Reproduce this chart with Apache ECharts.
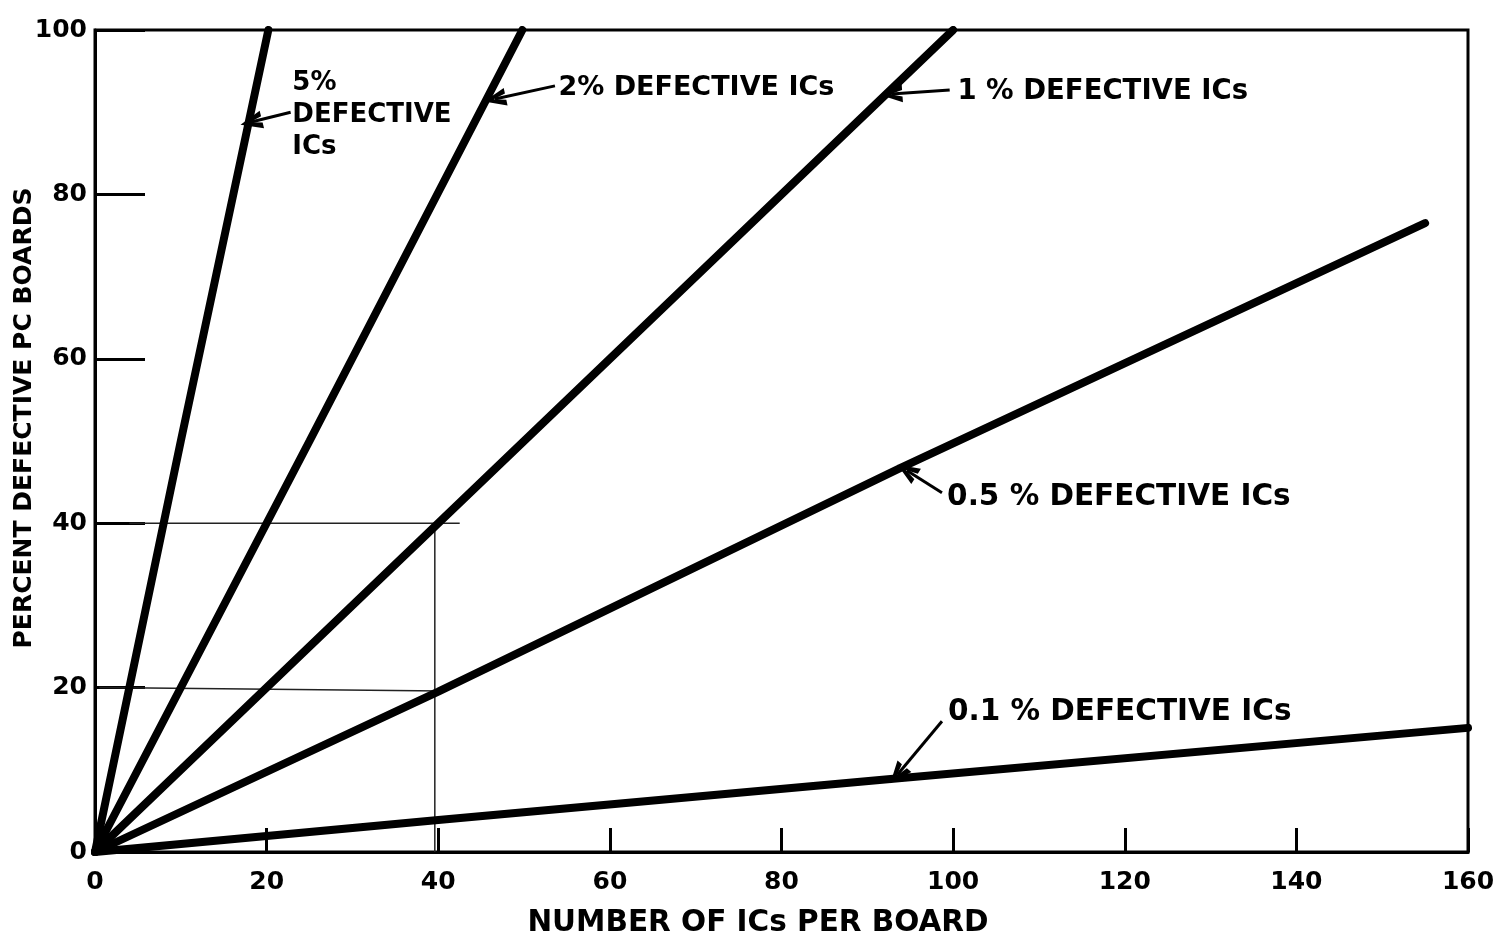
<!DOCTYPE html>
<html>
<head>
<meta charset="utf-8">
<script src="https://cdn.jsdelivr.net/npm/echarts@6/dist/echarts.min.js"></script>
<style>
html,body{margin:0;padding:0;background:#fff;}
#chart{width:1506px;height:940px;}
</style>
</head>
<body>
<div id="chart"></div>
<script>
// ---- data ----
const xTicks = [0, 20, 40, 60, 80, 100, 120, 140, 160];
const yTicks = [0, 20, 40, 60, 80, 100];
const seriesNames = ['5% DEFECTIVE ICs', '2% DEFECTIVE ICs', '1% DEFECTIVE ICs', '0.5% DEFECTIVE ICs', '0.1% DEFECTIVE ICs'];
const line5pct  = [[0, 0], [10, 50], [20.2, 100]];
const line2pct  = [[0, 0], [25, 50], [49.8, 100]];
const line1pct  = [[0, 0], [50, 50], [100, 100]];
const line05pct = [[0, 0], [40, 19.5], [94, 46.8], [155, 76.5]];
const line01pct = [[0, 0], [40, 3.9], [94, 9.0], [160, 15.1]];
// thin reading guide lines
const guide40 = [[4, 40], [42.5, 40]];
const guide20 = [[0.5, 20], [40.5, 19.6]];
const guideV  = [[39.6, 40], [39.6, 0]];
// annotation labels: text, anchor [x,y] (left edge, vertical centre), arrow from -> to
const labelTexts = ['5%\nDEFECTIVE\nICs', '2% DEFECTIVE ICs', '1 % DEFECTIVE ICs', '0.5 % DEFECTIVE ICs', '0.1 % DEFECTIVE ICs'];
const labelAnchors = [[23.0, 93.5], [54.0, 92.9], [100.5, 92.5], [99.3, 43.1], [99.4, 17.0]];
const labelSizes = [26, 27, 27.5, 29.5, 29.5];
const arrowFrom = [[22.8, 90.0], [53.6, 93.2], [99.6, 92.7], [98.7, 43.7], [98.7, 15.9]];
const arrowTo   = [[18.2, 88.8], [46.6, 91.6], [92.8, 92.2], [94.6, 46.4], [93.5, 9.4]];

const FONT = 'DejaVu Sans';
const chart = echarts.init(document.getElementById('chart'));

const heavy = (name, data) => ({
  name, type: 'line', data, symbol: 'none', silent: true,
  lineStyle: { color: '#000', width: 8, cap: 'round' }, z: 3
});
const thin = (data) => ({
  type: 'line', data, symbol: 'none', silent: true,
  lineStyle: { color: '#222', width: 1.5 }, z: 2
});

const arrowData = arrowFrom.map((f, i) => [{ coord: f }, { coord: arrowTo[i] }]);

chart.setOption({
  backgroundColor: '#fff',
  animation: false,
  grid: { left: 95, right: 38, top: 30, bottom: 88, containLabel: false, outerBoundsMode: 'none',
    show: true, borderColor: '#000', borderWidth: 3 },
  xAxis: {
    type: 'value', min: 0, max: 160, interval: 20,
    name: 'NUMBER OF ICs PER BOARD', nameLocation: 'middle', nameGap: 56, nameMoveOverlap: false,
    nameTextStyle: { fontFamily: FONT, fontSize: 29.5, fontWeight: 'bold', color: '#000', padding: [0, 47, 0, 0] },
    axisLine: { show: true, lineStyle: { color: '#000', width: 3 } },
    axisTick: { show: true, inside: true, length: 24, lineStyle: { color: '#000', width: 3 } },
    axisLabel: { fontFamily: FONT, fontSize: 25, fontWeight: 'bold', color: '#000', margin: 18,
      formatter: v => xTicks.includes(v) ? String(v) : '' },
    splitLine: { show: false }
  },
  yAxis: {
    type: 'value', min: 0, max: 100, interval: 20,
    name: 'PERCENT DEFECTIVE PC BOARDS', nameLocation: 'middle', nameGap: 58, nameMoveOverlap: false,
    nameTextStyle: { fontFamily: FONT, fontSize: 25, fontWeight: 'bold', color: '#000', padding: [0, 0, 0, 46] },
    axisLine: { show: true, lineStyle: { color: '#000', width: 3 } },
    axisTick: { show: true, inside: true, length: 50, lineStyle: { color: '#000', width: 3 } },
    axisLabel: { fontFamily: FONT, fontSize: 25, fontWeight: 'bold', color: '#000', margin: 8,
      formatter: v => yTicks.includes(v) ? String(v) : '' },
    splitLine: { show: false }
  },
  series: [
    heavy(seriesNames[0], line5pct),
    heavy(seriesNames[1], line2pct),
    heavy(seriesNames[2], line1pct),
    heavy(seriesNames[3], line05pct),
    heavy(seriesNames[4], line01pct),
    thin(guide40), thin(guide20), thin(guideV),
    {
      type: 'line', data: [], symbol: 'none', silent: true,
      markLine: {
        silent: true,
        symbol: ['none', 'path://M5,0L10,18L6.8,18L5,8L3.2,18L0,18Z'],
        symbolSize: [18, 22],
        lineStyle: { color: '#000', width: 3, type: 'solid' },
        label: { show: false },
        data: arrowData
      }
    }
  ]
});

const texts = labelTexts.map((t, i) => {
  const p = chart.convertToPixel({ gridIndex: 0 }, labelAnchors[i]);
  return {
    type: 'text', x: p[0], y: p[1], z: 10, silent: true,
    style: { text: t, fontFamily: FONT, fontSize: labelSizes[i], fontWeight: 'bold', fill: '#000',
      textAlign: 'left', textVerticalAlign: 'middle', lineHeight: 32 }
  };
});
// the multi-line 5% label: anchor is the centre of its first line
texts[0].style.textVerticalAlign = 'top';
texts[0].y -= 16;
chart.setOption({ graphic: texts });
</script>
</body>
</html>
